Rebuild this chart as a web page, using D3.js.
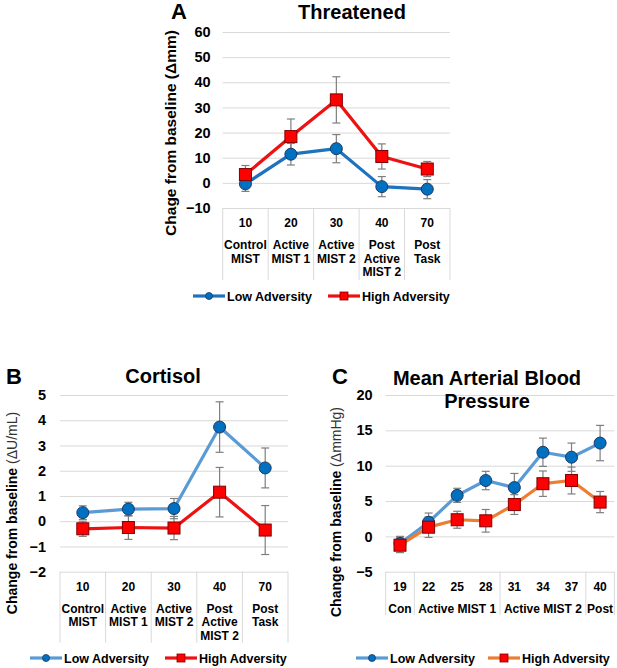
<!DOCTYPE html>
<html>
<head>
<meta charset="utf-8">
<script src="https://cdn.jsdelivr.net/npm/d3@7"></script>
<style>
  body { margin: 0; background: #fff; }
  svg { display: block; font-family: "Liberation Sans", Arial, sans-serif; }
</style>
</head>
<body>
<div id="chart"></div>
<script>
// ---- data ----
const catsA = ["10", "20", "30", "40", "70"];
const labelsA = [["Control", "MIST"], ["Active", "MIST 1"], ["Active", "MIST 2"], ["Post", "Active", "MIST 2"], ["Post", "Task"]];
const lowA = [-0.4, 11.4, 13.6, -1.5, -2.5];
const lowErrA = [3, 4.3, 5.6, 4, 3.8];
const highA = [3.3, 18.4, 33, 10.5, 5.5];
const highErrA = [3.6, 7, 9.2, 5, 3];
const ticksA = [-10, 0, 10, 20, 30, 40, 50, 60];

const catsB = ["10", "20", "30", "40", "70"];
const labelsB = labelsA;
const lowB = [0.34, 0.48, 0.5, 3.73, 2.11];
const lowErrB = [0.27, 0.27, 0.4, 1.0, 0.79];
const highB = [-0.3, -0.25, -0.27, 1.15, -0.35];
const highErrB = [0.3, 0.47, 0.46, 0.98, 0.97];
const ticksB = [-2, -1, 0, 1, 2, 3, 4, 5];

const catsC = ["19", "22", "25", "28", "31", "34", "37", "40"];
const groupLabelsC = ["Con", "Active MIST 1", "Active MIST 2", "Post"];
const groupSizesC = [1, 3, 3, 1];
const lowC = [-1.0, 2.0, 5.8, 7.9, 6.9, 11.9, 11.2, 13.2];
const lowErrC = [1, 1.3, 1.0, 1.3, 2.0, 2.0, 2.0, 2.5];
const highC = [-1.25, 1.3, 2.35, 2.2, 4.5, 7.45, 7.9, 4.85];
const highErrC = [1.05, 1.45, 1.2, 1.6, 1.4, 1.8, 1.9, 1.5];
const ticksC = [-5, 0, 5, 10, 15, 20];

const W = 617, H = 668;
const markerBlue = "#0070c0", markerRed = "#ff0000";
const gridColor = "#d9d9d9", errColor = "#7f7f7f";

const svg = d3.select("#chart").append("svg")
  .attr("width", W).attr("height", H);

function panel(o) {
  const g = svg.append("g");
  const x = d3.scaleBand().domain(o.cats).range([o.x0, o.x1]);
  const y = d3.scaleLinear().domain(d3.extent(o.ticks)).range([o.yBot, o.yTop]);

  // gridlines + tick labels
  g.append("g")
    .attr("transform", `translate(${o.x0},0)`)
    .call(d3.axisLeft(y).tickValues(o.ticks).tickFormat(d3.format("d"))
      .tickSize(-(o.x1 - o.x0)).tickPadding(o.pad))
    .call(a => a.select(".domain").remove())
    .call(a => a.selectAll("line").attr("stroke", gridColor))
    .call(a => a.selectAll("text")
      .attr("font-size", 14.5).attr("font-weight", "bold").attr("fill", "#000")
      .attr("font-family", "Liberation Sans, Arial, sans-serif"));

  // category table
  const tab = g.append("g");
  const bounds = o.bounds || d3.range(o.cats.length + 1);
  bounds.forEach(i => {
    const xx = i < o.cats.length ? x(o.cats[i]) : o.x1;
    tab.append("line").attr("x1", xx).attr("x2", xx)
      .attr("y1", o.yBot).attr("y2", o.yBot + o.cellH)
      .attr("stroke", gridColor);
  });
  tab.selectAll(".num").data(o.cats).enter().append("text")
    .attr("x", d => x(d) + x.bandwidth() / 2)
    .attr("y", o.yBot + 19)
    .attr("text-anchor", "middle").attr("font-size", 12).attr("font-weight", "bold")
    .text(d => d);
  if (o.labels) {
    o.labels.forEach((lines, i) => {
      lines.forEach((t, j) => {
        tab.append("text")
          .attr("x", x(o.cats[i]) + x.bandwidth() / 2)
          .attr("y", o.yBot + 41 + j * 13.5)
          .attr("text-anchor", "middle").attr("font-size", 12).attr("font-weight", "bold")
          .text(t);
      });
    });
  }
  if (o.groups) {
    let k = 0;
    o.groups.forEach((t, i) => {
      const n = o.groupSizes[i];
      const cx = x(o.cats[k]) + n * x.bandwidth() / 2;
      tab.append("text").attr("x", cx).attr("y", o.yBot + 41)
        .attr("text-anchor", "middle").attr("font-size", 12).attr("font-weight", "bold")
        .text(t);
      k += n;
    });
  }

  const cx = (d, i) => x(o.cats[i]) + x.bandwidth() / 2;
  const series = [
    {vals: o.low, err: o.lowErr, line: o.lowLine, kind: "circle"},
    {vals: o.high, err: o.highErr, line: o.highLine, kind: "square"}
  ];

  // lines
  series.forEach(s => {
    g.append("path")
      .attr("d", d3.line().x(cx).y(d => y(d))(s.vals))
      .attr("fill", "none").attr("stroke", s.line).attr("stroke-width", 3.2)
      .attr("stroke-linejoin", "round");
  });
  // error bars
  series.forEach(s => {
    s.vals.forEach((v, i) => {
      const px = cx(v, i), lo = y(v - s.err[i]), hi = y(v + s.err[i]);
      g.append("line").attr("x1", px).attr("x2", px).attr("y1", lo).attr("y2", hi)
        .attr("stroke", errColor).attr("stroke-width", 1.2);
      [lo, hi].forEach(yy => g.append("line").attr("x1", px - 4).attr("x2", px + 4)
        .attr("y1", yy).attr("y2", yy).attr("stroke", errColor).attr("stroke-width", 1.2));
    });
  });
  // markers
  series.forEach(s => {
    s.vals.forEach((v, i) => {
      if (s.kind === "circle") {
        g.append("circle").attr("cx", cx(v, i)).attr("cy", y(v)).attr("r", 6)
          .attr("fill", markerBlue).attr("stroke", "#1f3864").attr("stroke-width", 1);
      } else {
        g.append("rect").attr("x", cx(v, i) - 6).attr("y", y(v) - 6)
          .attr("width", 12).attr("height", 12)
          .attr("fill", markerRed).attr("stroke", "#7f0000").attr("stroke-width", 1);
      }
    });
  });

  // title, letter
  o.title.forEach((t, j) => {
    g.append("text").attr("x", o.titleX).attr("y", o.titleY + j * 23)
      .attr("text-anchor", "middle").attr("font-size", 20).attr("font-weight", "bold")
      .text(t);
  });
  g.append("text").attr("x", o.letterX).attr("y", o.letterY)
    .attr("font-size", 22).attr("font-weight", "bold").text(o.letter);

  // y label
  const yl = g.append("text")
    .attr("transform", `translate(${o.ylX},${o.ylY}) rotate(-90)`)
    .attr("text-anchor", "middle").attr("font-size", o.ylSize).attr("font-weight", "bold");
  yl.append("tspan").text(o.ylabel[0]);
  yl.append("tspan").attr("font-weight", o.unitBold ? "bold" : "normal")
    .attr("fill", o.unitBold ? "#000" : "#333").text(o.ylabel[1]);

  // legend
  const lg = g.append("g");
  const items = [
    {name: "Low Adversity", x: o.legX[0], line: o.lowLine, kind: "circle"},
    {name: "High Adversity", x: o.legX[1], line: o.highLine, kind: "square"}
  ];
  items.forEach(it => {
    lg.append("line").attr("x1", it.x).attr("x2", it.x + 32)
      .attr("y1", o.legY).attr("y2", o.legY).attr("stroke", it.line).attr("stroke-width", 3.2);
    if (it.kind === "circle") {
      lg.append("circle").attr("cx", it.x + 16).attr("cy", o.legY).attr("r", 3.5)
        .attr("fill", markerBlue).attr("stroke", "#1f3864").attr("stroke-width", 0.8);
    } else {
      lg.append("rect").attr("x", it.x + 12).attr("y", o.legY - 4).attr("width", 8).attr("height", 8)
        .attr("fill", markerRed).attr("stroke", "#7f0000").attr("stroke-width", 0.8);
    }
    lg.append("text").attr("x", it.x + 34).attr("y", o.legY + 4.5)
      .attr("font-size", 12.5).attr("font-weight", "bold").text(it.name);
  });
}

panel({
  cats: catsA, labels: labelsA, ticks: ticksA,
  low: lowA, lowErr: lowErrA, high: highA, highErr: highErrA,
  x0: 222.7, x1: 450, yTop: 32, yBot: 208, cellH: 72, pad: 12,
  lowLine: "#1f72bd", highLine: "#ee1111",
  title: ["Threatened"], titleX: 352, titleY: 19,
  letter: "A", letterX: 171, letterY: 19,
  ylabel: ["Chage from baseline ", "(\u0394mm)"], unitBold: true, ylSize: 15.5, ylX: 176, ylY: 133,
  legX: [193, 328], legY: 296
});

panel({
  cats: catsB, labels: labelsB, ticks: ticksB,
  low: lowB, lowErr: lowErrB, high: highB, highErr: highErrB,
  x0: 60, x1: 288, yTop: 395, yBot: 571.7, cellH: 71, pad: 14,
  lowLine: "#5b9bd5", highLine: "#ee1111",
  title: ["Cortisol"], titleX: 163, titleY: 383,
  letter: "B", letterX: 6, letterY: 384,
  ylabel: ["Change from baseline ", "(\u0394U/mL)"], unitBold: false, ylSize: 14, ylX: 17, ylY: 513,
  legX: [30, 165], legY: 658
});

panel({
  cats: catsC, groups: groupLabelsC, groupSizes: groupSizesC, ticks: ticksC,
  bounds: [0, 1, 4, 7, 8],
  low: lowC, lowErr: lowErrC, high: highC, highErr: highErrC,
  x0: 385.7, x1: 614.4, yTop: 395, yBot: 571.7, cellH: 43.5, pad: 13,
  lowLine: "#5b9bd5", highLine: "#ed7d31",
  title: ["Mean Arterial Blood", "Pressure"], titleX: 487, titleY: 385,
  letter: "C", letterX: 332, letterY: 384,
  ylabel: ["Change from baseline ", "(\u0394mmHg)"], unitBold: false, ylSize: 14, ylX: 341, ylY: 512,
  legX: [356, 488], legY: 658
});
</script>
</body>
</html>
